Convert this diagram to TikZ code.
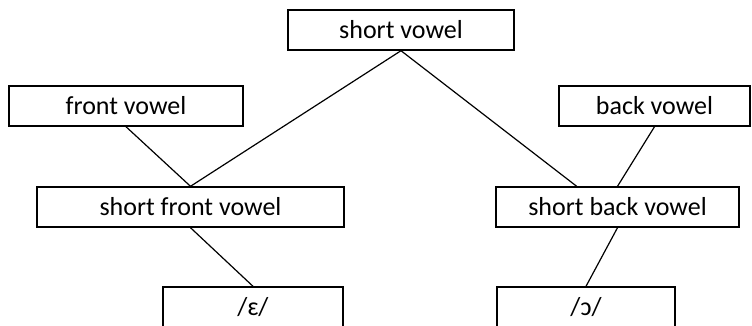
\documentclass[tikz,border=0pt]{standalone}
\usepackage{fontspec}
\setmainfont{Carlito}
\usetikzlibrary{calc}
\begin{document}
\begin{tikzpicture}[x=1pt,y=-1pt,
  box/.style={draw=black, line width=1.4pt, rectangle, inner sep=0pt,
    minimum height=40pt, font=\fontsize{26}{30}\selectfont},
  link/.style={draw=black, line width=1.2pt}]
  \useasboundingbox (0,0) rectangle (752,325);
  \clip (0,0) rectangle (752,325);

  % feature boxes
  \node[box, minimum width=226pt] (sv)  at (401,30)    {short vowel};
  \node[box, minimum width=234pt] (fv)  at (126,106)   {front vowel};
  \node[box, minimum width=191pt] (bv)  at (654.5,106) {back vowel};
  \node[box, minimum width=307pt] (sfv) at (190.5,207) {short front vowel};
  \node[box, minimum width=243pt] (sbv) at (617.5,207) {short back vowel};
  \node[box, minimum width=180pt] (eps) at (253,307)   {/ɛ/};
  \node[box, minimum width=178pt] (opo) at (586,307)   {/ɔ/};

  % connectors
  \draw[link] (sv.south) -- (sfv.north);
  \draw[link] (sv.south) -- ($(sbv.north west)!0.333!(sbv.north east)$);
  \draw[link] (fv.south) -- (sfv.north);
  \draw[link] (bv.south) -- (sbv.north);
  \draw[link] (sfv.south) -- (eps.north);
  \draw[link] (sbv.south) -- (opo.north);
\end{tikzpicture}
\end{document}
